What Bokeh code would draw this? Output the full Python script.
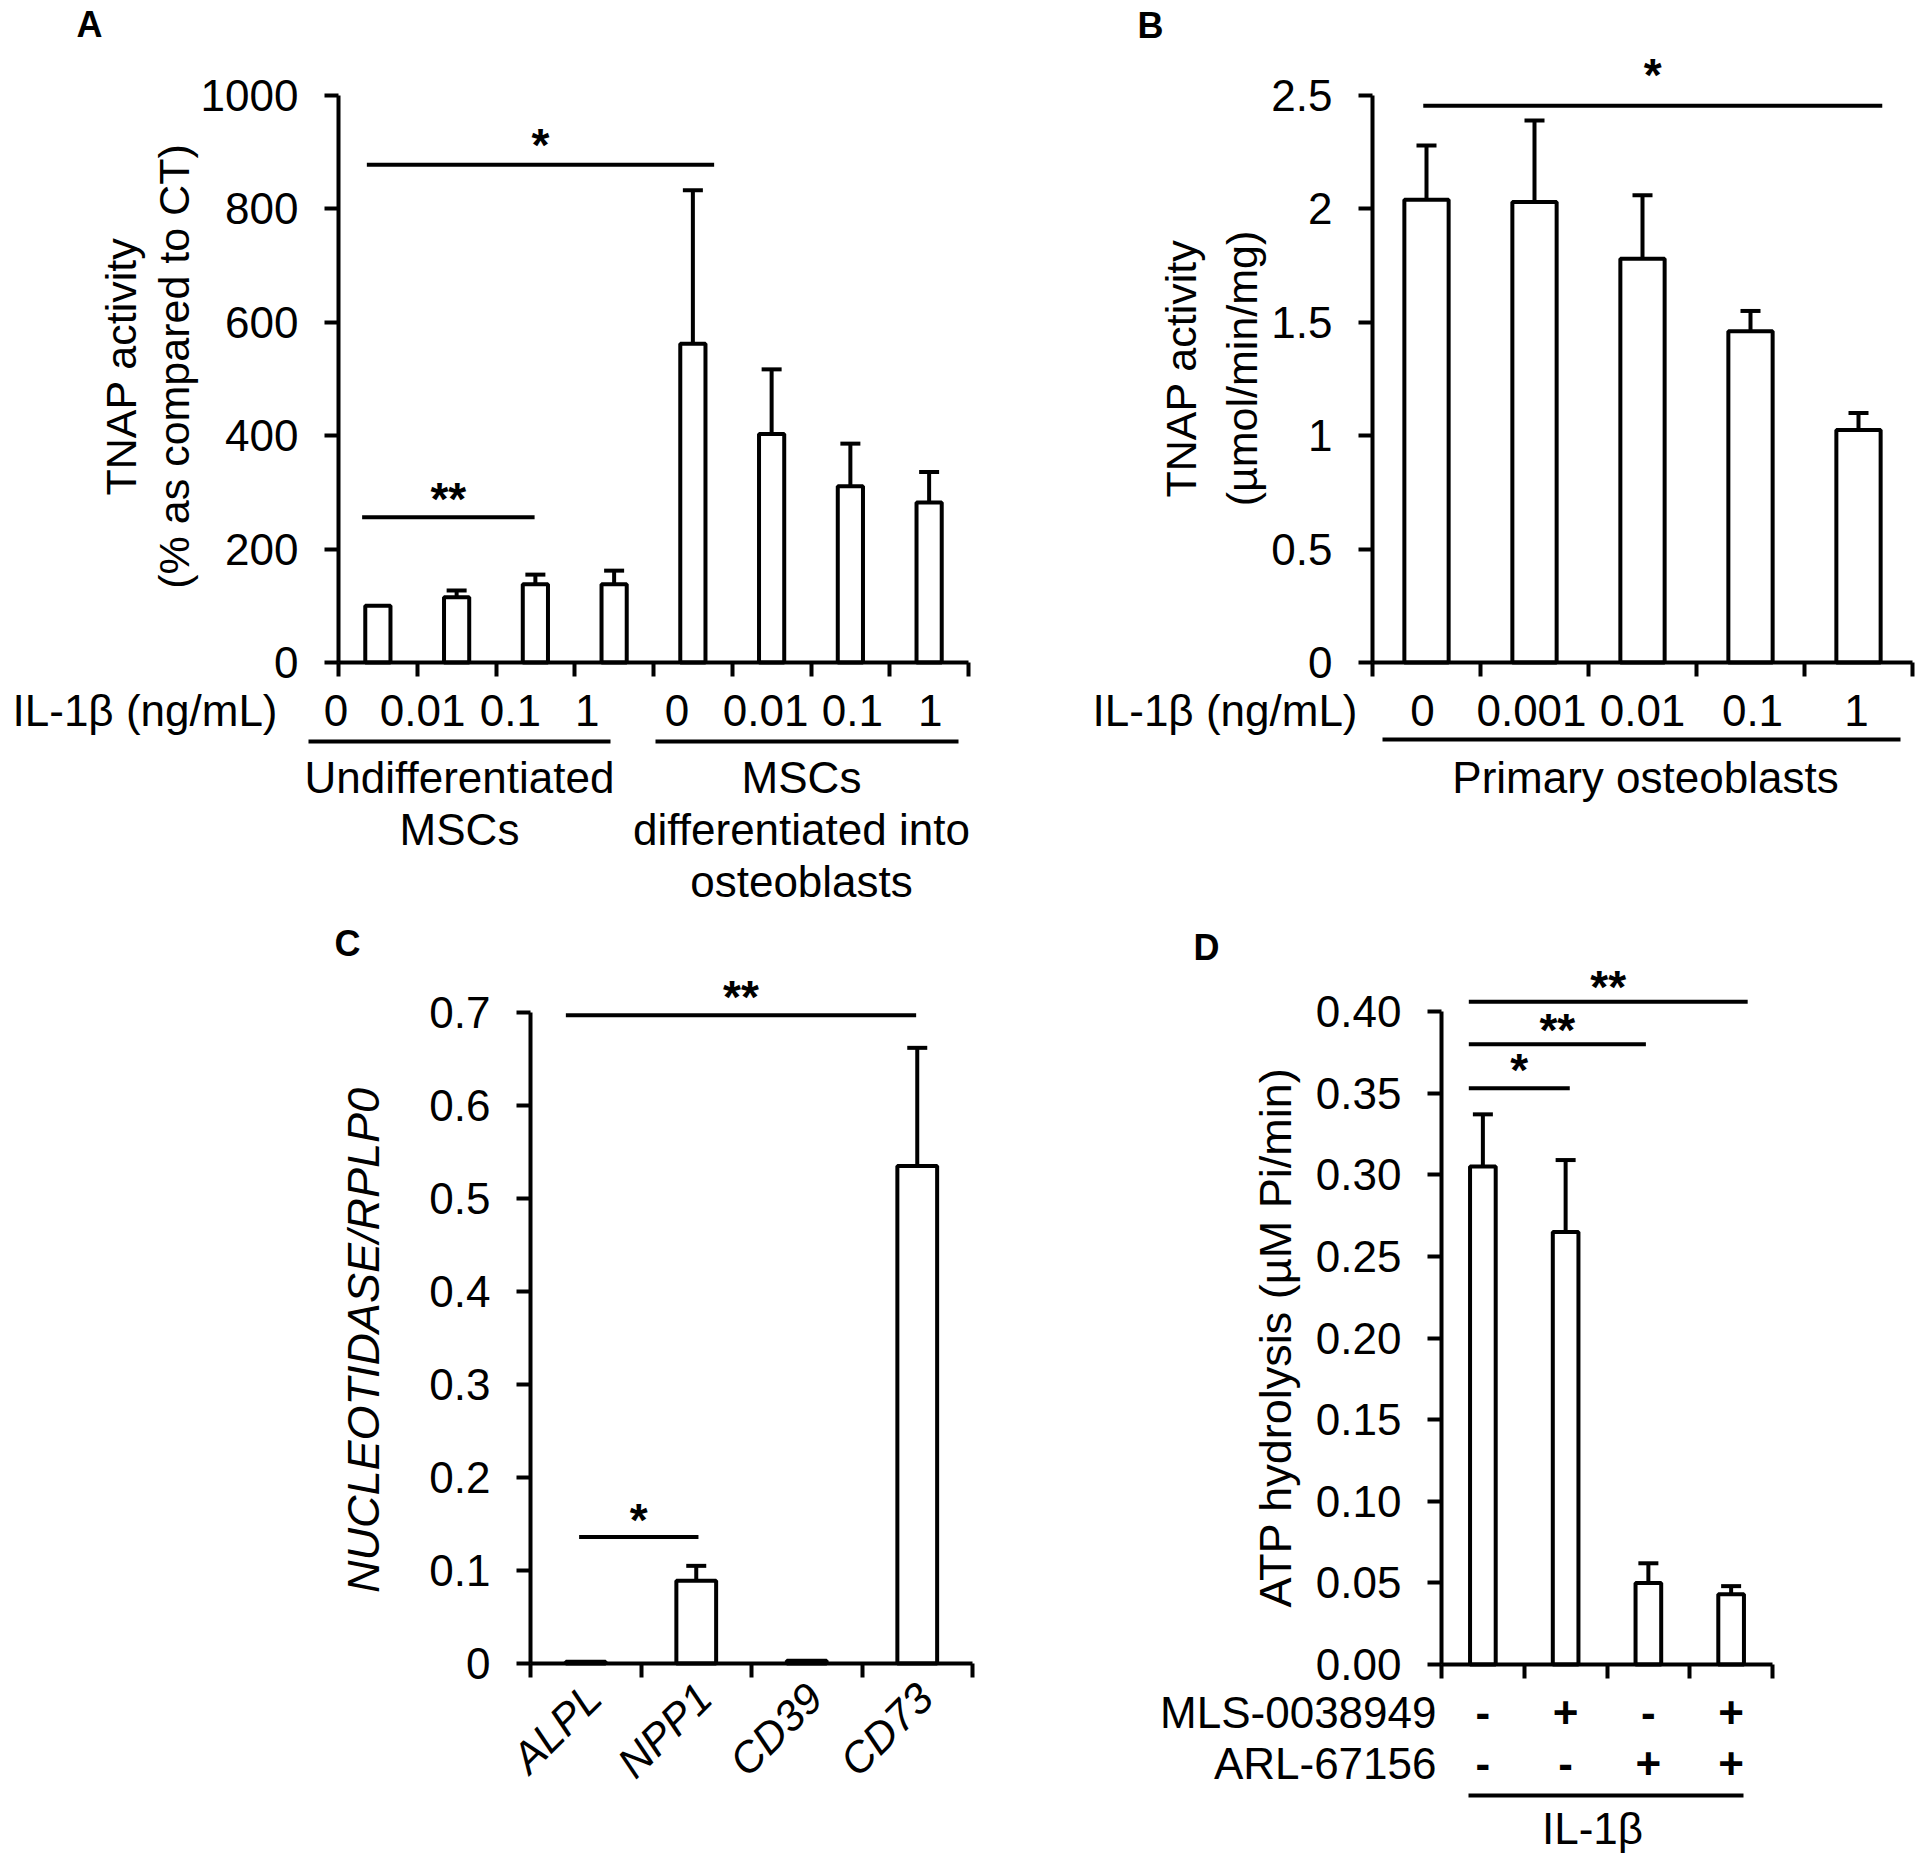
from math import pi
from bokeh.plotting import figure
from bokeh.models import LinearAxis, FixedTicker, Range1d, NumeralTickFormatter
from bokeh.layouts import column, row
from bokeh.embed import file_html
from bokeh.resources import INLINE
from bokeh.core.properties import value

FONT = "Liberation Sans"
FS = 44      # horizontal text size (px)
LW = 4       # stroke width

# ---------------- data ----------------
# Panel A
a_doses = ["0", "0.01", "0.1", "1", "0", "0.01", "0.1", "1"]
a_mean = [100, 115, 138, 138, 562, 403, 311, 282]
a_err = [0, 12, 17, 24, 271, 114, 75, 54]
a_yticks = [0, 200, 400, 600, 800, 1000]
a_ylabels = ["0", "200", "400", "600", "800", "1000"]
a_groups = [["Undifferentiated", "MSCs"], ["MSCs", "differentiated into", "osteoblasts"]]
a_sig = [(0.36, 4.77, 878, "*"), (0.30, 2.49, 256, "**")]

# Panel B
b_doses = ["0", "0.001", "0.01", "0.1", "1"]
b_mean = [2.04, 2.03, 1.78, 1.46, 1.025]
b_err = [0.24, 0.36, 0.28, 0.09, 0.075]
b_yticks = [0, 0.5, 1, 1.5, 2, 2.5]
b_ylabels = ["0", "0.5", "1", "1.5", "2", "2.5"]
b_group = "Primary osteoblasts"
b_sig = [(0.47, 4.72, 2.455, "*")]

# Panel C
c_genes = ["ALPL", "NPP1", "CD39", "CD73"]
c_mean = [0.002, 0.089, 0.003, 0.535]
c_err = [0, 0.016, 0, 0.127]
c_yticks = [0, 0.1, 0.2, 0.3, 0.4, 0.5, 0.6, 0.7]
c_ylabels = ["0", "0.1", "0.2", "0.3", "0.4", "0.5", "0.6", "0.7"]
c_sig = [(0.32, 3.49, 0.697, "**"), (0.44, 1.52, 0.136, "*")]

# Panel D
d_mls = ["-", "+", "-", "+"]
d_arl = ["-", "-", "+", "+"]
d_mean = [0.305, 0.265, 0.050, 0.043]
d_err = [0.032, 0.044, 0.012, 0.005]
d_yticks = [0, 0.05, 0.10, 0.15, 0.20, 0.25, 0.30, 0.35, 0.40]
d_ylabels = ["0.00", "0.05", "0.10", "0.15", "0.20", "0.25", "0.30", "0.35", "0.40"]
d_sig = [(0.33, 1.55, 0.353, "*"), (0.33, 2.47, 0.380, "**"), (0.33, 3.70, 0.406, "**")]


# ---------------- helpers ----------------
class Panel:
    def __init__(self, left, top, w, h, x0, cw, y0, ph):
        self.x0, self.cw, self.y0, self.ph = x0, cw, y0, ph
        self.p = figure(width=w, height=h,
                        x_range=Range1d(self.fx(left), self.fx(left + w)),
                        y_range=Range1d(self.fy(top + h), self.fy(top)),
                        x_axis_type=None, y_axis_type=None,
                        output_backend="svg", toolbar_location=None,
                        min_border=0, outline_line_color=None)
        self.p.background_fill_color = "white"
        self.p.border_fill_color = "white"

    def fx(self, px):
        return (px - self.x0) / self.cw

    def fy(self, py):
        return (self.y0 - py) / self.ph

    def py(self, yv):
        return self.y0 - yv * self.ph

    def text(self, px, py, s, size=FS, align="center", style="normal", angle=0.0,
             baseline="middle", data_x=None):
        x = self.fx(px) if data_x is None else data_x
        self.p.text(x=[x], y=[self.fy(py)], text=[s], text_font=value(FONT),
                    text_font_size=f"{size}px", text_font_style=style,
                    text_align=align, text_baseline=baseline, angle=angle,
                    text_color="black")

    def axes(self, n, yticks, ylabels, fmt):
        ya = LinearAxis(fixed_location=0, bounds=(yticks[0], yticks[-1]),
                        ticker=FixedTicker(ticks=yticks, minor_ticks=[]),
                        formatter=NumeralTickFormatter(format=fmt),
                        major_label_overrides=dict(zip(yticks, ylabels)))
        xa = LinearAxis(fixed_location=0, bounds=(0, n),
                        ticker=FixedTicker(ticks=list(range(n + 1)), minor_ticks=[]),
                        major_label_overrides={i: "" for i in range(n + 1)})
        for ax in (ya, xa):
            ax.axis_line_width = LW
            ax.axis_line_color = "black"
            ax.major_tick_line_width = LW
            ax.major_tick_line_color = "black"
            ax.major_tick_in = 0
            ax.major_tick_out = 14
            ax.minor_tick_in = 0
            ax.minor_tick_out = 0
            ax.major_label_text_font = FONT
            ax.major_label_text_color = "black"
        ya.major_label_text_font_size = f"{FS}px"
        ya.major_label_standoff = 26
        xa.major_label_text_font_size = "0px"
        self.p.add_layout(ya, "left")
        self.p.add_layout(xa, "below")

    def bars(self, mean, err, width, cap_px=10):
        n = len(mean)
        cx = [i + 0.5 for i in range(n)]
        self.p.vbar(x=cx, top=mean, bottom=0, width=width, fill_color="white",
                    line_color="black", line_width=LW)
        idx = [i for i in range(n) if err[i] > 0]
        xs = [cx[i] for i in idx]
        lo = [mean[i] for i in idx]
        hi = [mean[i] + err[i] for i in idx]
        cap = cap_px / self.cw
        self.p.segment(x0=xs, y0=lo, x1=xs, y1=hi, line_color="black", line_width=LW)
        self.p.segment(x0=[x - cap for x in xs], y0=hi, x1=[x + cap for x in xs], y1=hi,
                       line_color="black", line_width=LW)

    def sig(self, sigs, offsets, size=46):
        for (x0, x1, yv, s), off in zip(sigs, offsets):
            self.p.segment(x0=[x0], y0=[yv], x1=[x1], y1=[yv], line_color="black",
                           line_width=LW)
            pyl = self.py(yv)
            self.text(0, pyl - off + 9, s, size=size, style="bold", data_x=(x0 + x1) / 2)

    def hline(self, px0, px1, py):
        self.p.segment(x0=[self.fx(px0)], y0=[self.fy(py)], x1=[self.fx(px1)],
                       y1=[self.fy(py)], line_color="black", line_width=LW)


# ---------------- Panel A ----------------
A = Panel(0, 0, 1000, 920, 338, 78.75, 662, 0.567)
A.axes(len(a_mean), a_yticks, a_ylabels, "0")
A.bars(a_mean, a_err, 0.32)
A.sig(a_sig, [29, 27])
A.text(89, 24, "A", size=36, style="bold")
A.text(120, 366, "TNAP activity", size=43, angle=pi / 2)
A.text(173, 366, "(% as compared to CT)", size=43, angle=pi / 2)
A.text(277, 710, "IL-1β (ng/mL)", align="right")
a_label_dx = [-42, -34, -25, -27, -16, -6, 2, 1]
for i, (lab, dx) in enumerate(zip(a_doses, a_label_dx)):
    A.text(0, 710, lab, data_x=i + 0.5 + dx / A.cw)
A.hline(308, 610, 741)
A.hline(655, 958, 741)
for line, py in zip(a_groups[0], [777, 829]):
    A.text(459, py, line)
for line, py in zip(a_groups[1], [777, 829, 881]):
    A.text(801, py, line)

# ---------------- Panel B ----------------
B = Panel(1000, 0, 920, 920, 1372, 108.0, 662, 226.8)
B.axes(len(b_mean), b_yticks, b_ylabels, "0.[0]")
B.bars(b_mean, b_err, 0.41)
B.sig(b_sig, [40])
B.text(1150, 25, "B", size=36, style="bold")
B.text(1180, 368, "TNAP activity", size=43, angle=pi / 2)
B.text(1241, 368, "(µmol/min/mg)", size=43, angle=pi / 2)
B.text(1357, 710, "IL-1β (ng/mL)", align="right")
b_label_dx = [-4, -3, 0, 2, -2]
for i, (lab, dx) in enumerate(zip(b_doses, b_label_dx)):
    B.text(0, 710, lab, data_x=i + 0.5 + dx / B.cw)
B.hline(1382, 1900, 739)
B.text(1645, 777, b_group)

# ---------------- Panel C ----------------
C = Panel(0, 920, 1000, 937, 530, 110.5, 1663, 930.0)
C.axes(len(c_mean), c_yticks, c_ylabels, "0.[0]")
C.bars(c_mean, c_err, 0.36)
C.sig(c_sig, [27, 26])
C.text(347, 943, "C", size=36, style="bold")
C.text(363, 1340, "NUCLEOTIDASE/RPLP0", size=45, style="italic", angle=pi / 2)
for i, lab in enumerate(c_genes):
    C.text(0, 1690, lab, size=43, style="italic", align="right", angle=pi / 4,
           data_x=i + 0.5 + 8 / C.cw)

# ---------------- Panel D ----------------
D = Panel(1000, 920, 920, 937, 1441, 82.75, 1664, 1632.5)
D.axes(len(d_mean), d_yticks, d_ylabels, "0.00")
D.bars(d_mean, d_err, 0.31)
D.sig(d_sig, [27, 23, 24])
D.text(1206, 947, "D", size=36, style="bold")
D.text(1275, 1337, "ATP hydrolysis (µM Pi/min)", size=45, angle=pi / 2)
D.text(1436, 1712, "MLS-0038949", align="right")
D.text(1436, 1763, "ARL-67156", align="right")
for i, (m, a) in enumerate(zip(d_mls, d_arl)):
    D.text(0, 1712, m, style="bold", data_x=i + 0.5)
    D.text(0, 1763, a, style="bold", data_x=i + 0.5)
D.hline(1468, 1743, 1795)
D.text(1592, 1828, "IL-1β")

layout = column(row(A.p, B.p), row(C.p, D.p))
open("out.html", "w").write(file_html(layout, INLINE))
